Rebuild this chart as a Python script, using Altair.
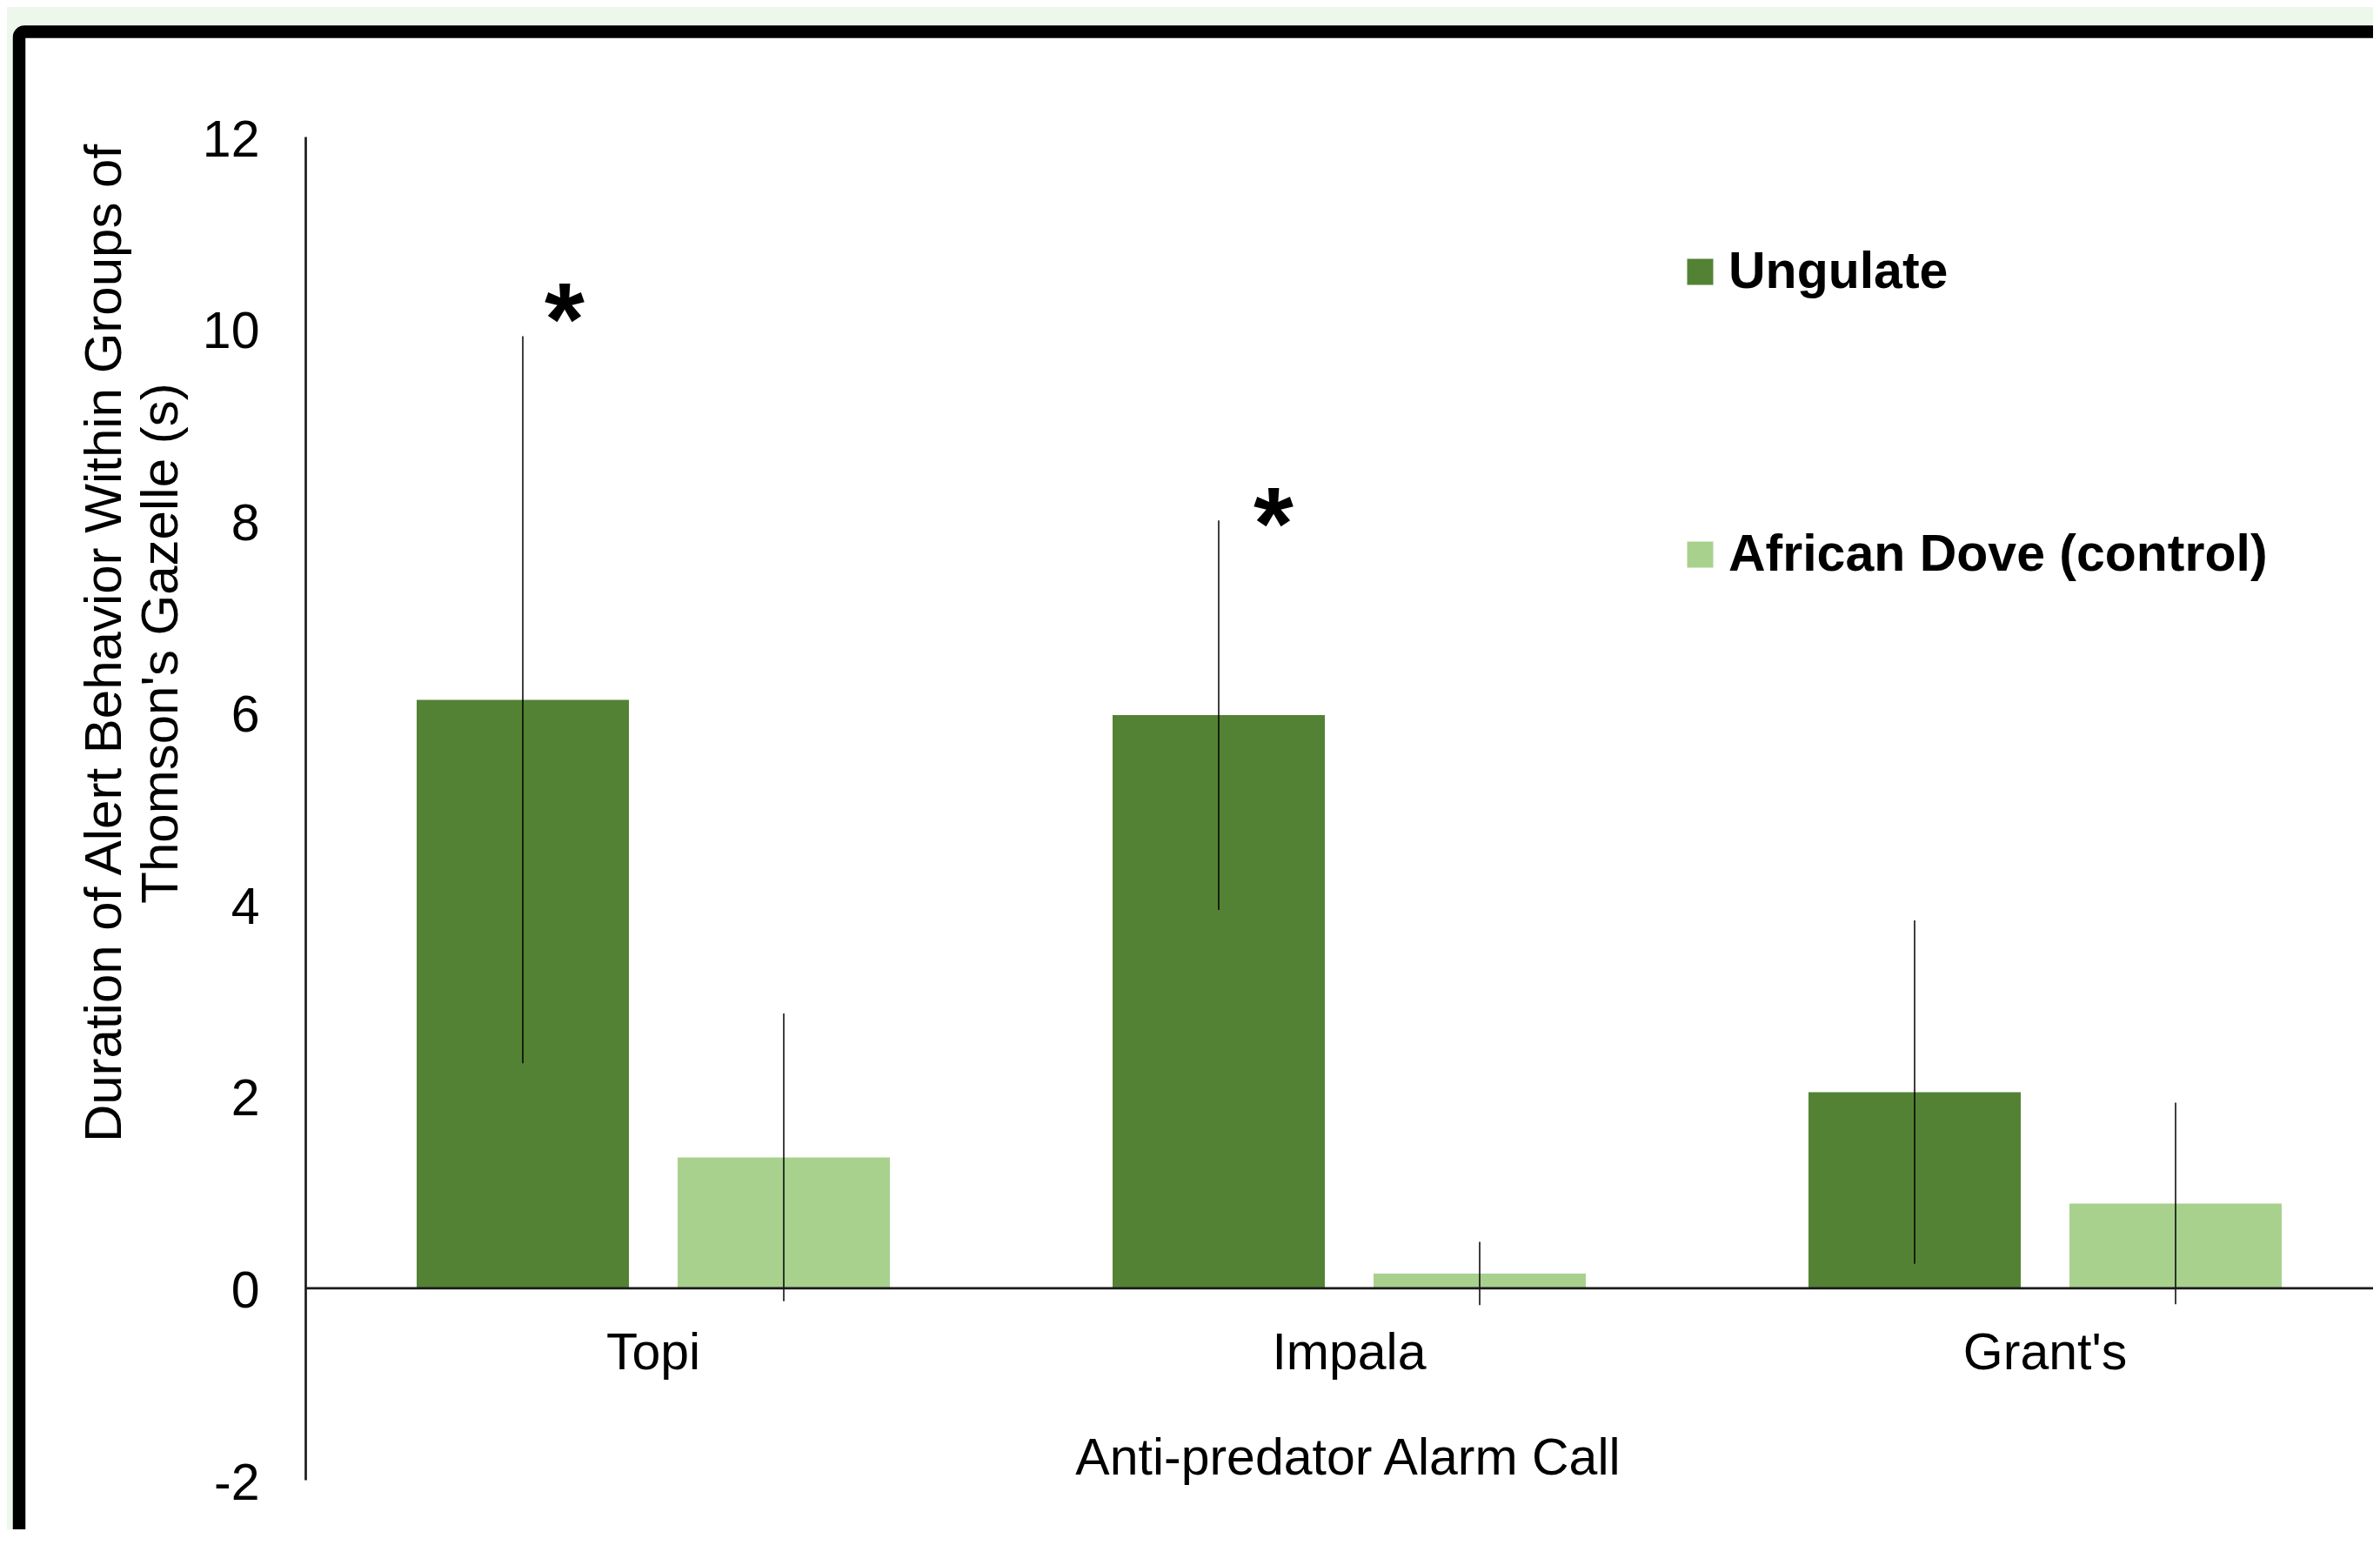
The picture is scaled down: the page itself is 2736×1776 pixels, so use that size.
import altair as alt
import pandas as pd

# ---- data ----
categories = ["Topi", "Impala", "Grant's"]
series = ["Ungulate", "African Dove (control)"]
ungulate_mean = [6.13, 5.97, 2.04]
ungulate_err = [3.79, 2.03, 1.79]
dove_mean = [1.36, 0.15, 0.88]
dove_err = [1.50, 0.33, 1.05]
star_categories = ["Topi", "Impala"]
star_values = [10.25, 8.09]
y_ticks = [-2, 0, 2, 4, 6, 8, 10, 12]
colors = ["#548235", "#A9D18E"]
x_title = "Anti-predator Alarm Call"
y_title = ["Duration of Alert Behavior Within Groups of", "Thomson's Gazelle (s)"]

rows = []
for i, c in enumerate(categories):
    for s, m, e in ((series[0], ungulate_mean[i], ungulate_err[i]),
                    (series[1], dove_mean[i], dove_err[i])):
        rows.append({"call": c, "series": s, "mean": m, "lo": m - e, "hi": m + e})
df = pd.DataFrame(rows)
stars = pd.DataFrame({"call": star_categories, "series": [series[0]] * len(star_categories),
                      "v": star_values})

FONT = "Liberation Sans"
FS = 59

x_axis = alt.Axis(orient="bottom", offset=-220.57, labelFontSize=FS, labelFont=FONT,
                  labelColor="black", labelPadding=46, labelAngle=0, labelLimit=2000,
                  ticks=False, tickSize=0,
                  domainColor="#1a1a1a", domainWidth=2.7, grid=False,
                  titleFontSize=FS, titleFont=FONT, titleFontWeight="normal", titleColor="black",
                  titleX=1198, titleY=214, titleAlign="center", titleBaseline="alphabetic",
                  zindex=1)
y_axis = alt.Axis(values=y_ticks, labelFontSize=FS, labelFont=FONT, labelColor="black",
                  labelExpr="datum.value < 0 ? '-' + abs(datum.value) : '' + datum.value",
                  labelPadding=53, labelOffset=4, ticks=False, tickSize=0,
                  domainColor="#1a1a1a", domainWidth=2.7, grid=False,
                  titleFontSize=60, titleFont=FONT, titleFontWeight="normal", titleColor="black",
                  titleX=-213, titleY=582, titleAngle=270, titleAlign="center",
                  titleBaseline="alphabetic", titleLineHeight=65, zindex=1)

x_enc = alt.X("call:N", sort=categories, title=x_title, axis=x_axis,
              scale=alt.Scale(range=[0, 2400], paddingInner=0.32, paddingOuter=0.16))
xo_enc = alt.XOffset("series:N", sort=series,
                     scale=alt.Scale(domain=series, paddingInner=0.1867, paddingOuter=0))
y_scale = alt.Scale(domain=[-2, 12], nice=False, zero=False)

frame = alt.Chart(pd.DataFrame({"k": [0]})).mark_rect(
    fill="white", stroke="black", strokeWidth=14.5, cornerRadius=6
).encode(x=alt.value(-329), x2=alt.value(2600), y=alt.value(-120.5), y2=alt.value(1900))

bars = alt.Chart(df).mark_bar().encode(
    x=x_enc,
    xOffset=xo_enc,
    y=alt.Y("mean:Q", scale=y_scale, axis=y_axis, title=y_title),
    color=alt.Color("series:N", sort=series,
                    scale=alt.Scale(domain=series, range=colors),
                    legend=alt.Legend(title=None, orient="none", legendX=1574, legendY=126,
                                      symbolType="square", symbolSize=900, symbolStrokeWidth=0,
                                      symbolOpacity=1, labelFontSize=FS, labelFont=FONT,
                                      labelFontWeight="bold", labelColor="black",
                                      labelOffset=3, rowPadding=265, padding=0,
                                      labelLimit=2000, zindex=1)),
)

errs = alt.Chart(df).mark_rule(color="black", strokeWidth=1.5).encode(
    x=alt.X("call:N", sort=categories, title=x_title),
    xOffset=alt.XOffset("series:N", sort=series),
    y=alt.Y("lo:Q", title=y_title),
    y2="hi:Q",
)

star_layers = []
for cat, dx, dy in (("Topi", 48, 23), ("Impala", 63, 20)):
    star_layers.append(
        alt.Chart(stars).transform_filter(alt.datum.call == cat).mark_text(
            text="*", fontSize=118, fontWeight="bold", font=FONT, color="black",
            baseline="middle", dy=dy, dx=dx
        ).encode(
            x=alt.X("call:N", sort=categories, title=x_title),
            xOffset=alt.XOffset("series:N", sort=series),
            y=alt.Y("v:Q", title=y_title),
        )
    )

chart = alt.layer(frame, bars, errs, *star_layers).properties(
    width=2377, height=1544,
    autosize=alt.AutoSizeParams(type="none"),
    padding={"left": 343, "top": 149, "right": 0, "bottom": 57},
    background="#eef7eb",
).configure_view(stroke="transparent")

chart.save("out.html", embed_options={"renderer": "svg", "actions": False})
